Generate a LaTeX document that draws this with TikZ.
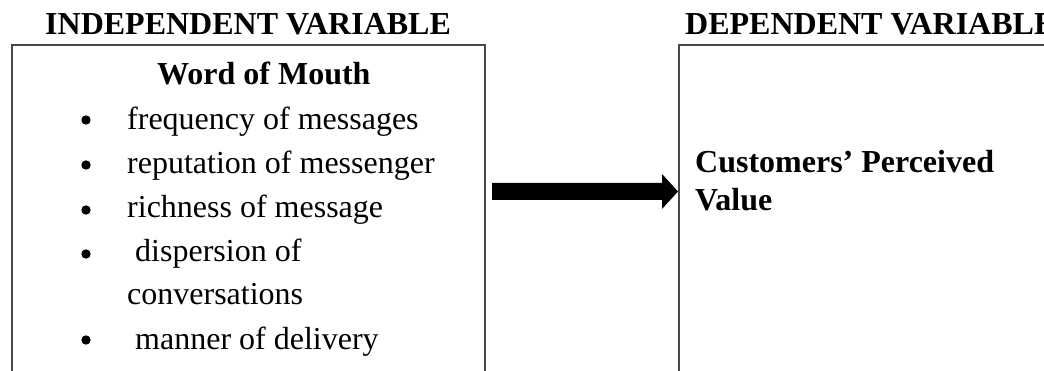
\documentclass[tikz,border=0pt]{standalone}
\usepackage{fontspec}
\setmainfont{Liberation Serif}
\usetikzlibrary{calc}
\begin{document}
\begin{tikzpicture}[x=1pt,y=1pt,
  boxline/.style={draw=black!72,line width=1.5pt},
  head/.style={anchor=base west,inner sep=0pt,font=\fontsize{32}{38}\selectfont\bfseries},
  item/.style={anchor=base west,inner sep=0pt,font=\fontsize{32}{38}\selectfont},
  bul/.style={fill=black,draw=none},
  bigarrow/.style={fill=black,draw=none}]
\useasboundingbox (0,0) rectangle (1044,-371);
\fill[white] (0,0) rectangle (1044,-371);
% headers
\node[head] (hind) at (45,-35) {INDEPENDENT VARIABLE};
\node[head] (hdep) at (685,-35) {DEPENDENT VARIABLE};
% left box
\coordinate (lbl) at (12,-380);
\coordinate (ltl) at (12,-45);
\coordinate (ltr) at (485,-45);
\coordinate (lbr) at (485,-380);
\draw[boxline] (lbl) -- (ltl) -- (ltr) -- (lbr);
% right box
\coordinate (rbl) at (679,-380);
\coordinate (rtl) at (679,-45);
\coordinate (rtr) at (1060,-45);
\draw[boxline] (rbl) -- (rtl) -- (rtr);
% left box content
\node[head] (wom) at (157,-85) {Word of Mouth};
\fill[bul] (86,-120) circle (4.7pt);
\node[item] (i1) at (127,-130) {frequency of messages};
\fill[bul] (86,-165) circle (4.7pt);
\node[item] (i2) at (127,-174) {reputation of messenger};
\fill[bul] (86,-210) circle (4.7pt);
\node[item] (i3) at (127,-218) {richness of message};
\fill[bul] (86,-254) circle (4.7pt);
\node[item] (i4) at (135,-262) {dispersion of};
\node[item] (i4b) at (127,-305) {conversations};
\fill[bul] (86,-340) circle (4.7pt);
\node[item] (i5) at (135,-349) {manner of delivery};
% right box content
\node[head] (cpv1) at (695,-173) {Customers’ Perceived};
\node[head] (cpv2) at (695,-211) {Value};
% arrow (block arrow from left box towards right box)
\coordinate (a0) at (492,-191.5);
\coordinate (a1) at (678,-191.5);
\fill[bigarrow] ($(a0)+(0,8.5)$) -- ($(a1)+(-16,8.5)$) -- ($(a1)+(-16,17.5)$) -- (a1)
  -- ($(a1)+(-16,-17.5)$) -- ($(a1)+(-16,-8.5)$) -- ($(a0)+(0,-8.5)$) -- cycle;
\end{tikzpicture}
\end{document}
